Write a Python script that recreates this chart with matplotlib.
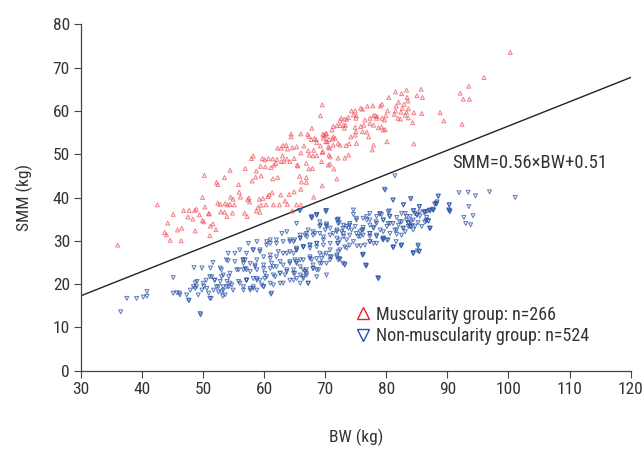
import matplotlib
matplotlib.use("Agg")
import matplotlib.pyplot as plt
from matplotlib.lines import Line2D
import numpy as np

plt.rcParams['font.family'] = ['Roboto Condensed', 'Liberation Sans Narrow', 'Roboto', 'DejaVu Sans']

# body weight (kg), skeletal muscle mass (kg)
musc = np.array([
    (69.5, 61.4), (69.2, 58.9), (67.8, 56.0), (64.4, 54.7), (64.4, 54.0), (66.0, 54.7),
    (67.1, 54.6), (67.3, 54.1), (67.7, 53.4), (68.2, 53.6), (68.5, 53.4), (69.6, 54.6),
    (70.0, 54.2), (70.2, 54.7), (68.6, 52.7), (70.1, 52.9), (70.6, 53.4), (70.7, 51.4),
    (62.2, 51.4), (63.1, 52.0), (63.6, 52.1), (62.8, 51.4), (63.8, 51.2), (64.6, 51.5),
    (65.3, 51.7), (66.5, 51.9), (66.0, 50.3), (67.2, 50.8), (68.1, 50.9), (67.4, 49.8),
    (68.0, 49.6), (68.6, 49.7), (69.5, 50.4), (69.4, 48.3), (70.6, 49.8), (70.8, 47.7),
    (69.2, 51.9), (58.2, 49.6), (57.9, 49.0), (59.7, 49.0), (60.1, 48.7), (60.7, 49.0),
    (61.4, 48.9), (62.1, 48.8), (62.8, 48.3), (63.2, 48.4), (63.7, 48.9), (64.2, 48.3),
    (64.9, 49.0), (65.4, 47.5), (65.5, 47.3), (66.9, 47.9), (67.9, 46.7), (67.3, 46.6),
    (63.0, 49.6), (61.9, 47.9), (61.1, 46.9), (61.6, 47.5), (60.2, 47.1), (59.4, 47.2),
    (58.7, 46.1), (56.9, 46.7), (54.4, 46.3), (53.5, 44.6), (50.2, 45.1), (52.2, 43.5),
    (52.4, 43.0), (55.8, 43.0), (58.0, 43.8), (58.6, 44.7), (59.5, 45.0), (61.4, 44.3),
    (62.2, 44.6), (65.8, 44.9), (66.9, 44.6), (66.1, 43.6), (66.0, 41.9), (66.9, 43.5),
    (69.5, 42.7), (68.1, 40.1), (49.9, 40.0), (54.5, 40.1), (54.9, 39.6), (55.9, 41.2),
    (56.1, 40.1), (57.3, 39.5), (57.6, 39.0), (57.5, 39.9), (59.2, 39.6), (59.8, 39.8),
    (60.6, 40.2), (60.8, 40.6), (59.5, 38.2), (60.3, 38.3), (61.5, 38.3), (62.5, 38.3),
    (63.4, 39.2), (63.8, 38.4), (64.9, 41.3), (64.1, 40.7), (65.3, 38.3), (66.0, 38.3),
    (64.6, 36.9), (61.3, 41.1), (62.7, 40.6), (59.0, 37.7), (58.7, 36.9), (59.3, 36.6),
    (56.8, 36.4), (57.2, 35.6), (53.6, 38.6), (54.0, 38.3), (54.4, 38.4), (55.1, 38.3),
    (52.8, 38.4), (52.4, 38.7), (52.9, 36.7), (53.5, 36.6), (54.8, 36.4), (53.9, 35.6),
    (50.3, 37.8), (48.9, 37.3), (48.6, 37.0), (47.7, 37.0), (46.8, 37.0), (47.5, 35.5),
    (48.3, 35.0), (49.4, 36.0), (49.9, 34.7), (50.1, 34.4), (50.9, 36.3), (51.0, 36.2),
    (51.6, 33.9), (51.2, 33.4), (52.1, 32.6), (51.1, 31.2), (48.7, 32.3), (46.5, 32.9),
    (45.8, 32.5), (44.6, 30.1), (46.4, 30.0), (43.7, 31.9), (44.0, 31.4), (44.2, 34.1),
    (45.1, 36.1), (42.5, 38.3), (36.0, 29.0), (100.3, 73.5),
    (96.0, 67.7), (93.5, 65.7), (92.1, 64.1), (92.6, 62.7), (93.6, 62.7), (92.4, 56.9),
    (89.4, 57.7), (88.8, 59.6), (85.7, 65.0), (85.0, 63.5), (85.9, 63.1), (84.5, 59.6),
    (85.8, 59.4), (84.3, 57.3), (84.5, 52.4), (83.3, 64.8), (83.4, 63.1), (83.5, 62.3),
    (82.9, 61.5), (83.6, 60.5), (82.6, 60.6), (82.4, 59.7), (83.3, 59.7), (83.1, 59.0),
    (83.6, 58.4), (82.3, 58.1), (81.9, 58.3), (81.5, 60.0), (81.3, 59.2), (81.6, 61.1),
    (82.0, 62.0), (82.5, 64.0), (81.5, 64.4), (80.4, 63.1), (80.2, 60.0), (79.7, 57.9),
    (79.2, 56.3), (79.8, 55.7), (80.1, 52.9), (79.3, 58.3), (79.9, 58.9), (78.5, 58.7),
    (78.2, 58.9), (77.8, 61.2), (76.9, 61.1), (79.0, 61.1), (79.3, 61.5), (75.8, 60.6),
    (76.1, 60.4), (74.3, 60.0), (74.9, 60.0), (74.6, 59.1), (75.1, 58.9), (75.0, 58.3),
    (73.8, 58.5), (73.5, 58.1), (73.1, 58.1), (72.6, 58.3), (72.4, 57.7), (73.0, 56.7),
    (73.3, 56.7), (73.1, 56.0), (72.4, 56.6), (71.9, 56.6), (71.3, 56.4), (71.1, 55.6),
    (71.3, 54.0), (71.2, 53.5), (71.6, 53.7), (70.1, 54.8), (69.8, 54.4), (69.7, 53.7),
    (70.3, 52.9), (70.5, 51.7), (71.3, 52.1), (72.1, 52.5), (72.4, 52.1), (73.4, 52.0),
    (73.9, 52.4), (74.2, 54.0), (74.9, 54.4), (75.0, 55.2), (74.9, 56.2), (75.8, 56.4),
    (76.3, 56.7), (76.1, 55.2), (76.5, 57.9), (77.3, 58.3), (77.9, 58.9), (78.4, 58.3),
    (77.3, 57.1), (77.9, 56.7), (78.7, 56.1), (79.5, 55.6), (77.1, 54.0), (76.8, 55.1),
    (77.9, 52.1), (77.7, 51.0), (75.1, 52.5), (73.8, 49.8), (73.2, 49.1), (72.1, 49.1),
    (70.8, 49.4), (69.6, 50.6), (70.5, 47.5), (71.4, 46.6), (71.9, 44.3),
])

non_musc = np.array([
    # lower left tail
    (36.5, 13.6), (37.5, 16.7), (39.1, 16.7), (40.2, 17.0), (40.8, 17.2), (40.8, 18.3),
    (45.1, 21.5), (45.1, 17.9), (45.7, 18.0), (46.2, 17.5), (47.3, 17.5), (47.6, 16.3),
    (47.9, 18.6), (48.4, 19.4), (48.7, 19.0), (49.0, 20.6), (49.5, 13.2), (49.2, 17.5),
    (49.8, 18.6), (50.1, 19.5), (50.5, 20.9), (50.9, 17.9), (51.1, 16.7), (51.4, 21.7),
    (51.7, 18.6), (51.9, 20.9), (52.2, 19.4), (52.5, 18.2), (52.8, 20.6), (53.0, 21.7),
    (53.3, 18.6), (53.6, 17.5), (53.9, 20.6), (54.1, 25.4), (51.6, 25.0), (49.8, 23.7),
    (48.5, 23.8), (51.2, 23.7), (52.8, 23.7), (53.3, 22.1), (54.2, 19.4), (54.2, 21.7),
    (46.1, 17.9), (47.7, 16.2), (48.7, 20.3), (48.9, 19.4), (49.6, 12.9), (50.0, 20.2),
    (50.6, 19.0), (51.1, 21.7), (51.3, 16.7), (51.9, 20.9), (52.5, 19.4), (53.0, 18.2),
    (53.2, 17.2), (53.9, 19.4), (54.7, 19.8), (55.2, 27.1), (55.5, 23.3), (56.0, 20.2),
    (56.6, 25.6), (56.9, 23.6), (57.1, 20.9), (57.7, 18.6), (58.2, 19.4), (58.5, 24.4),
    (58.8, 21.3), (59.6, 19.8), (60.1, 22.5), (61.0, 20.2), (61.1, 17.7), (61.5, 24.0),
    (62.6, 22.5), (63.7, 23.3), (65.3, 24.8), (66.95, 22.1), (65.9, 20.2), (67.8, 25.6),
    # central band
    (65.8, 37.0), (67.8, 35.6), (68.6, 35.9), (70.1, 37.0), (69.1, 34.4), (65.3, 34.0),
    (63.7, 32.1), (62.9, 31.7), (61.0, 30.2), (60.4, 29.0), (62.0, 29.4), (64.2, 30.2),
    (65.9, 31.3), (67.0, 30.9), (68.0, 32.1), (70.2, 33.3), (71.9, 34.8), (72.1, 34.0),
    (73.0, 33.6), (71.3, 31.7), (69.7, 30.9), (68.6, 29.4), (67.5, 29.0), (66.4, 28.6),
    (65.3, 27.9), (63.7, 27.1), (62.3, 27.5), (61.0, 26.7), (59.3, 27.5), (58.2, 27.9),
    (56.9, 25.6), (56.6, 24.8), (55.2, 25.2), (53.8, 25.6), (53.0, 23.3), (54.4, 22.5),
    (55.8, 23.3), (57.1, 23.3), (58.5, 24.0), (59.9, 24.4), (61.2, 24.8), (62.6, 25.2),
    (64.2, 25.2), (65.9, 25.6), (67.5, 26.3), (69.1, 27.1), (70.8, 27.9), (72.1, 29.4),
    (73.5, 30.2), (72.4, 27.9), (70.8, 25.6), (69.4, 24.8), (68.0, 23.6), (66.7, 22.9),
    (65.0, 22.5), (63.4, 22.1), (61.8, 21.7), (60.1, 21.3), (58.8, 20.9), (57.1, 20.9),
    (55.8, 20.6), (54.4, 20.2), (53.3, 19.4), (54.9, 18.6), (56.6, 18.6), (58.2, 19.0),
    (59.9, 19.4), (61.5, 19.8), (63.1, 20.2), (64.8, 20.9), (66.4, 21.3), (68.6, 21.7),
    (70.2, 22.1), (71.9, 26.3), (56.0, 27.9), (57.4, 29.4), (58.8, 29.8), (54.1, 27.1),
    (79.7, 41.9), (81.1, 39.4), (82.8, 38.3), (85.4, 37.9), (88.2, 38.5), (88.5, 40.3),
    (87.6, 37.3), (87.2, 36.9), (86.6, 36.7), (86.2, 36.5), (85.5, 35.7), (84.4, 36.9),
    (84.7, 36.3), (83.9, 35.6), (83.6, 34.2), (84.2, 33.5), (85.2, 34.2), (86.3, 34.3),
    (86.9, 34.6), (87.2, 32.9), (84.4, 27.3), (85.4, 27.6), (82.5, 29.0), (81.2, 28.6),
    (80.1, 30.2), (79.4, 30.3), (78.4, 29.4), (76.2, 26.9), (76.6, 24.4), (78.6, 21.5),
    (75.2, 28.8), (74.0, 29.0), (73.2, 28.6), (72.1, 25.6), (73.2, 24.6), (70.2, 24.8),
    (68.6, 23.3), (67.2, 20.2),
    (65.9, 37.0), (67.7, 35.4), (68.6, 36.1), (70.2, 37.0), (69.2, 33.6), (70.2, 33.9),
    (72.1, 35.0), (72.3, 34.2), (74.6, 36.1), (75.1, 35.2), (76.8, 35.6), (77.3, 36.3),
    (79.0, 36.3), (80.3, 36.7), (80.5, 35.7), (81.7, 35.4), (82.5, 36.3), (83.1, 36.3),
    (82.2, 34.4), (81.1, 34.0), (80.1, 33.3), (79.0, 32.5), (77.9, 32.9), (77.3, 31.7),
    (76.0, 32.5), (74.9, 33.3), (74.0, 34.0), (73.5, 33.3), (72.7, 32.1), (71.9, 32.5),
    (70.8, 32.9), (70.0, 32.5), (69.1, 31.7), (68.3, 31.7), (67.2, 32.5), (66.7, 31.3),
    (65.9, 30.6), (65.0, 30.2), (64.2, 29.8), (63.1, 29.8), (62.0, 30.2), (61.0, 29.4),
    (60.4, 29.8), (59.3, 27.9), (58.2, 27.9), (57.1, 27.1), (56.5, 25.6),
    (57.7, 24.8), (58.8, 25.6), (59.9, 26.3), (61.0, 25.9), (62.0, 26.3), (63.1, 27.1),
    (64.2, 27.5), (65.3, 28.3), (66.4, 28.6), (67.5, 28.3), (68.6, 28.6), (69.7, 29.0),
    (70.8, 29.4), (71.9, 30.6), (73.0, 31.0), (74.0, 31.3), (75.1, 31.7), (76.2, 31.3),
    (77.3, 31.0), (78.4, 31.3), (79.5, 30.6), (80.6, 31.7), (81.7, 32.5), (82.8, 32.9),
    (83.9, 33.3), (84.4, 32.5), (85.8, 33.3), (86.6, 35.4), (83.3, 34.8),
    (56.6, 23.3), (57.7, 22.9), (58.8, 23.3), (59.9, 23.6), (61.0, 23.6), (62.0, 24.0),
    (63.1, 24.4), (64.2, 24.8), (65.3, 25.2), (66.4, 25.6), (67.5, 25.9), (68.6, 25.9),
    (69.7, 26.7), (70.8, 26.3), (72.1, 27.5), (57.1, 20.9), (58.2, 21.3), (59.3, 20.9),
    (60.4, 21.7), (61.5, 22.1), (62.6, 22.5), (63.7, 22.9), (64.8, 22.5), (65.9, 22.1),
    (66.9, 23.3), (68.0, 23.6), (69.1, 24.8), (56.6, 19.4), (57.7, 19.0), (58.8, 18.6),
    (59.9, 19.4), (61.2, 17.9), (62.6, 20.2), (64.2, 20.9), (65.3, 21.3), (66.4, 21.7),
    # right part
    (81.4, 45.0), (79.8, 41.7), (84.0, 39.7), (88.3, 39.0), (88.1, 38.5), (90.3, 38.3),
    (90.3, 37.1), (90.4, 36.9), (91.9, 41.1), (93.4, 41.2), (94.6, 40.4), (96.9, 41.3),
    (101.1, 40.0), (93.5, 37.9), (94.2, 35.8), (92.7, 35.4), (93.0, 34.0), (93.8, 33.7),
    (87.1, 37.1), (87.7, 37.1), (86.3, 36.7), (86.6, 34.8), (86.9, 34.6), (87.1, 32.9),
    (85.5, 36.7), (85.0, 36.0), (84.4, 34.8), (84.7, 33.4), (83.9, 33.3), (83.3, 35.6),
    (82.5, 34.4), (82.0, 33.6), (82.5, 31.3), (81.4, 32.5), (80.6, 34.0), (80.5, 36.9),
    (78.9, 36.2), (79.5, 34.8), (78.4, 34.0), (77.9, 33.1), (77.3, 31.7), (76.8, 34.8),
    (76.2, 33.1), (75.7, 32.1), (75.4, 31.0), (75.8, 28.8), (76.2, 26.8), (74.3, 32.5),
    (73.8, 32.9), (73.0, 31.7), (72.4, 30.2), (72.0, 29.4), (71.9, 26.7), (72.4, 25.7),
    (73.2, 24.4), (76.7, 24.3), (78.7, 21.3), (81.1, 28.5), (82.4, 28.8), (84.4, 27.1),
    (85.1, 27.7), (85.2, 29.0), (81.7, 31.5), (82.7, 32.9), (83.6, 34.0), (79.5, 30.6),
    (80.3, 30.2), (77.3, 29.8), (77.9, 29.4),
    (81.1, 39.4), (82.8, 38.3), (84.0, 39.7), (85.4, 37.9), (84.5, 37.0), (85.0, 35.9),
    (86.3, 36.7), (87.0, 37.0), (87.7, 37.1), (87.9, 38.5), (88.5, 40.3), (88.2, 38.7),
    (90.3, 38.3), (90.2, 37.1), (90.4, 36.7), (86.5, 34.6), (87.1, 32.9), (85.2, 28.8),
    (84.4, 27.1), (85.4, 27.5), (84.0, 34.4), (83.6, 33.3), (83.1, 32.1), (82.5, 29.0),
    (81.6, 29.8), (81.1, 28.5), (79.5, 30.2), (78.7, 21.3), (76.7, 24.2), (76.1, 26.7),
    (76.5, 29.0), (77.3, 29.8), (78.4, 31.0), (79.5, 32.1), (80.3, 34.0), (80.6, 35.6),
    (79.2, 36.0), (78.3, 34.4), (77.3, 33.6), (76.2, 32.5), (75.7, 31.0), (74.6, 29.8),
    (73.5, 28.3), (72.9, 24.8), (72.3, 25.9), (71.0, 26.3), (70.2, 27.1), (69.4, 25.9),
    (68.9, 23.3), (68.0, 24.4), (67.2, 20.2), (66.9, 22.5), (66.4, 23.3), (65.9, 24.0),
    (64.8, 23.3), (65.0, 25.6), (65.3, 27.9), (66.4, 28.6), (67.5, 29.0), (68.6, 29.4),
    (69.7, 30.2), (70.8, 31.3), (71.9, 32.1), (72.9, 32.9), (74.0, 33.6), (75.1, 34.8),
    (76.2, 35.2), (77.3, 34.8), (78.4, 35.6), (79.5, 34.8), (74.6, 37.1), (72.1, 34.8),
    (70.2, 33.6), (69.1, 33.3), (67.8, 35.2), (68.6, 36.0), (70.1, 36.7), (68.0, 31.3),
    (66.9, 31.7), (65.9, 30.6), (64.8, 29.8), (64.8, 27.1),
])

# regression line shown in the chart
slope = 0.56
intercept = 0.51
line_label = 'SMM=0.56\u00d7BW+0.51'

legend_labels = ['Muscularity group: n=266', 'Non-muscularity group: n=524']
x_ticks = list(range(30, 121, 10))
y_ticks = list(range(0, 81, 10))

red = '#f0525c'
blue = '#2d55a8'

fig = plt.figure(figsize=(6.44, 4.5), dpi=100)
ax = fig.add_axes([0.1258, 0.1762, 0.8534, 0.7698])

ax.scatter(musc[:, 0], musc[:, 1], marker='^', s=8, facecolors='none',
           edgecolors=red, linewidths=0.75, alpha=0.7, zorder=3)
ax.scatter(non_musc[:, 0], non_musc[:, 1], marker='v', s=8, facecolors='none',
           edgecolors=blue, linewidths=0.75, alpha=0.75, zorder=3)

xs = np.array([30, 120])
ax.plot(xs, slope * xs + intercept, color='#222222', linewidth=1.0, zorder=2)
ax.text(90.8, 47.9, line_label, fontsize=13.5, color='#333333', va='center', ha='left')

handles = [
    Line2D([], [], linestyle='none', marker='^', markersize=9, markerfacecolor='none',
           markeredgecolor='#e8202a', markeredgewidth=1.0),
    Line2D([], [], linestyle='none', marker='v', markersize=9, markerfacecolor='none',
           markeredgecolor='#1f4fa8', markeredgewidth=1.0),
]
ax.legend(handles, legend_labels, loc='center left', bbox_to_anchor=(0.497, 0.131),
          frameon=False, fontsize=13, handlelength=1.0, handletextpad=0.2,
          labelspacing=0.2, borderpad=0, borderaxespad=0, labelcolor='#333333')

ax.set_xlim(30, 120)
ax.set_ylim(0, 80)
ax.set_xticks(x_ticks)
ax.set_yticks(y_ticks)
ax.tick_params(direction='out', length=5, width=0.8, color='#444444',
               labelsize=12.5, labelcolor='#333333', pad=3)
for side in ['top', 'right']:
    ax.spines[side].set_visible(False)
for side in ['left', 'bottom']:
    ax.spines[side].set_color('#444444')
    ax.spines[side].set_linewidth(0.9)

ax.set_xlabel('BW (kg)', fontsize=12.5, color='#333333', labelpad=23)
ax.set_ylabel('SMM (kg)', fontsize=12.5, color='#333333', labelpad=14)

fig.savefig('out.png', dpi=100)
